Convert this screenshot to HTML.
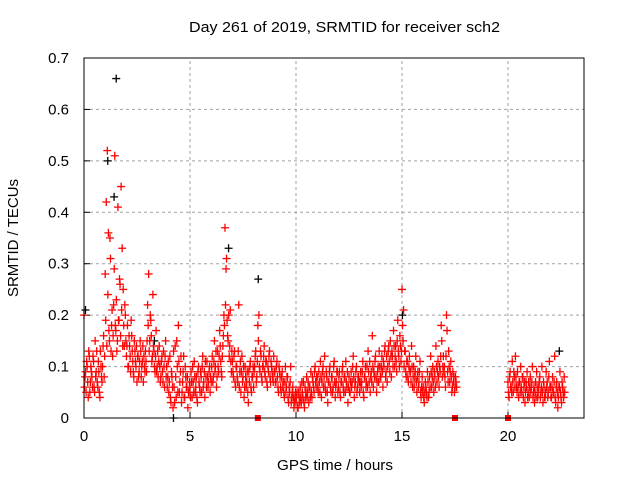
<!DOCTYPE html>
<html><head><meta charset="utf-8"><style>
body{margin:0;background:#fff}
svg{display:block;font-family:"Liberation Sans",sans-serif}
</style></head><body>
<svg id="chart" width="640" height="480">
<text x="344.5" y="32" text-anchor="middle" font-size="15" textLength="311" lengthAdjust="spacingAndGlyphs">Day 261 of 2019, SRMTID for receiver sch2</text>
<text x="335" y="470" text-anchor="middle" font-size="15" textLength="116" lengthAdjust="spacingAndGlyphs">GPS time / hours</text>
<text transform="translate(18,238) rotate(-90)" text-anchor="middle" font-size="15">SRMTID / TECUs</text>
<g id="grid"></g>
<g id="ticks"></g>
<g id="marks"></g>
<rect x="84" y="58" width="500" height="360" fill="none" stroke="#000" stroke-width="1"/>
</svg>
<script>
const xTicks=[0,5,10,15,20];
const yTicks=[0,0.1,0.2,0.3,0.4,0.5,0.6,0.7];
const yTickLabels=["0","0.1","0.2","0.3","0.4","0.5","0.6","0.7"];
const seg1Start=0, seg1Step=0.05;
const seg1Values=[
0.20,0.08,0.05,0.10,0.04,0.12,0.07,0.09,0.06,0.11,0.05,0.08,0.13,0.06,0.09,0.04,0.10,0.07,0.14,0.08,
0.28,0.42,0.52,0.36,0.15,0.31,0.18,0.12,0.22,0.51,0.17,0.13,0.41,0.19,0.26,0.45,0.33,0.25,0.14,0.20,
0.12,0.18,0.10,0.14,0.09,0.16,0.11,0.08,0.13,0.10,0.07,0.12,0.09,0.15,0.08,0.11,0.07,0.10,0.13,0.09,
0.22,0.28,0.15,0.19,0.11,0.24,0.13,0.09,0.17,0.10,0.08,0.14,0.07,0.11,0.09,0.13,0.06,0.15,0.10,0.08,
0.05,0.12,0.03,0.08,0.02,0.06,0.14,0.04,0.10,0.18,0.05,0.09,0.03,0.07,0.12,0.04,0.08,0.06,0.02,0.05,
0.06,0.09,0.04,0.07,0.11,0.05,0.08,0.03,0.10,0.06,0.09,0.05,0.12,0.07,0.04,0.08,0.11,0.06,0.09,0.05,
0.07,0.12,0.08,0.15,0.10,0.06,0.13,0.09,0.17,0.11,0.08,0.14,0.20,0.37,0.29,0.19,0.15,0.12,0.21,0.09,
0.11,0.08,0.13,0.06,0.10,0.07,0.22,0.09,0.05,0.12,0.08,0.04,0.10,0.06,0.09,0.03,0.07,0.11,0.05,0.08,
0.06,0.10,0.13,0.08,0.18,0.20,0.09,0.12,0.07,0.10,0.14,0.08,0.11,0.06,0.09,0.13,0.07,0.10,0.08,0.12,
0.09,0.07,0.11,0.06,0.10,0.08,0.05,0.09,0.07,0.04,0.10,0.06,0.08,0.03,0.05,0.10,0.04,0.06,0.02,0.04,
0.03,0.05,0.02,0.04,0.06,0.03,0.05,0.07,0.02,0.04,0.08,0.05,0.03,0.06,0.09,0.04,0.07,0.05,0.10,0.06,
0.08,0.05,0.07,0.11,0.04,0.09,0.06,0.12,0.05,0.08,0.03,0.07,0.10,0.05,0.08,0.06,0.11,0.04,0.07,0.09,
0.06,0.09,0.04,0.07,0.10,0.05,0.08,0.11,0.06,0.03,0.08,0.05,0.09,0.07,0.12,0.04,0.07,0.10,0.06,0.08,
0.05,0.09,0.07,0.11,0.04,0.08,0.06,0.10,0.13,0.07,0.05,0.09,0.16,0.06,0.08,0.12,0.05,0.09,0.07,0.10,
0.08,0.12,0.06,0.10,0.14,0.09,0.07,0.13,0.11,0.15,0.08,0.12,0.17,0.10,0.14,0.09,0.19,0.12,0.16,0.11,
0.25,0.15,0.10,0.13,0.08,0.11,0.07,0.12,0.09,0.14,0.06,0.10,0.08,0.12,0.05,0.09,0.07,0.11,0.04,0.08,
0.06,0.03,0.07,0.05,0.09,0.04,0.08,0.12,0.06,0.10,0.05,0.08,0.14,0.07,0.11,0.06,0.09,0.18,0.08,0.12,
0.10,0.06,0.20,0.09,0.13,0.07,0.11,0.05,0.09,0.08,0.06,0.07];
const seg1bStart=0.025, seg1bStep=0.05;
const seg1bValues=[
0.06,0.09,0.11,0.07,0.13,0.05,0.10,0.08,0.12,0.06,0.15,0.09,0.07,0.11,0.05,0.13,0.08,0.10,0.16,0.12,
0.19,0.14,0.24,0.17,0.35,0.13,0.21,0.16,0.29,0.18,0.23,0.15,0.19,0.27,0.16,0.21,0.14,0.18,0.22,0.15,
0.14,0.10,0.16,0.12,0.19,0.13,0.09,0.15,0.11,0.14,0.12,0.08,0.11,0.13,0.10,0.14,0.12,0.09,0.11,0.15,
0.18,0.13,0.20,0.16,0.12,0.14,0.10,0.12,0.09,0.13,0.11,0.10,0.08,0.12,0.07,0.10,0.12,0.08,0.06,0.11,
0.07,0.04,0.09,0.06,0.13,0.03,0.08,0.15,0.05,0.11,0.07,0.12,0.05,0.09,0.04,0.10,0.06,0.08,0.05,0.07,
0.04,0.07,0.10,0.05,0.08,0.06,0.04,0.09,0.07,0.05,0.08,0.10,0.06,0.09,0.11,0.06,0.08,0.07,0.10,0.08,
0.10,0.07,0.11,0.09,0.13,0.08,0.10,0.12,0.14,0.09,0.12,0.16,0.18,0.22,0.31,0.16,0.20,0.14,0.11,0.13,
0.09,0.12,0.07,0.10,0.08,0.13,0.06,0.11,0.09,0.07,0.10,0.06,0.08,0.07,0.05,0.09,0.10,0.06,0.08,0.10,
0.09,0.12,0.07,0.11,0.15,0.10,0.13,0.08,0.10,0.12,0.09,0.11,0.07,0.10,0.12,0.08,0.11,0.09,0.07,0.09,
0.07,0.10,0.08,0.05,0.09,0.06,0.08,0.06,0.05,0.07,0.05,0.08,0.04,0.06,0.07,0.03,0.05,0.04,0.03,0.05,
0.04,0.02,0.05,0.03,0.04,0.07,0.04,0.03,0.06,0.05,0.04,0.07,0.06,0.04,0.05,0.08,0.06,0.09,0.07,0.08,
0.06,0.09,0.05,0.08,0.07,0.10,0.08,0.06,0.09,0.05,0.07,0.09,0.06,0.08,0.05,0.10,0.07,0.06,0.09,0.05,
0.08,0.05,0.07,0.09,0.06,0.08,0.05,0.07,0.09,0.06,0.05,0.07,0.06,0.10,0.08,0.06,0.09,0.05,0.08,0.07,
0.07,0.06,0.09,0.05,0.08,0.10,0.07,0.06,0.09,0.11,0.08,0.07,0.10,0.09,0.11,0.08,0.07,0.10,0.13,0.08,
0.10,0.09,0.11,0.13,0.08,0.12,0.10,0.14,0.09,0.12,0.13,0.10,0.14,0.12,0.11,0.15,0.13,0.10,0.14,0.13,
0.18,0.21,0.13,0.09,0.11,0.08,0.10,0.09,0.07,0.10,0.08,0.06,0.09,0.07,0.08,0.06,0.09,0.05,0.06,0.05,
0.04,0.05,0.06,0.04,0.07,0.05,0.06,0.09,0.08,0.07,0.09,0.06,0.10,0.09,0.08,0.10,0.12,0.15,0.10,0.09,
0.08,0.12,0.17,0.07,0.10,0.09,0.08,0.06,0.07,0.05,0.08,0.06];
const seg2Start=20, seg2Step=0.05;
const seg2Values=[
0.07,0.04,0.09,0.06,0.11,0.05,0.08,0.12,0.06,0.09,0.04,0.07,0.10,0.05,0.08,0.06,0.03,0.07,0.09,0.05,
0.04,0.08,0.06,0.10,0.05,0.03,0.07,0.09,0.04,0.06,0.08,0.05,0.10,0.03,0.06,0.04,0.09,0.07,0.05,0.11,
0.06,0.04,0.08,0.05,0.12,0.03,0.07,0.02,0.06,0.09,0.04,0.07,0.05,0.08];
const seg2bStart=20.025, seg2bStep=0.05;
const seg2bValues=[
0.05,0.08,0.06,0.05,0.07,0.09,0.06,0.08,0.05,0.06,0.07,0.05,0.06,0.08,0.04,0.07,0.05,0.06,0.04,0.07,
0.06,0.05,0.07,0.04,0.06,0.05,0.04,0.06,0.05,0.07,0.04,0.06,0.05,0.07,0.04,0.05,0.06,0.04,0.08,0.06,
0.04,0.06,0.05,0.07,0.04,0.06,0.05,0.04,0.06,0.05,0.03,0.06,0.04,0.05];
const blackTimes=[0.05,1.1,1.4,1.5,3.3,4.2,6.8,8.2,15.0,22.4];
const blackValues=[0.21,0.50,0.43,0.66,0.15,0.0,0.33,0.27,0.20,0.13];
const zeroTimes=[8.2,17.5,20.0];

const NS="http://www.w3.org/2000/svg";
const X0=84,X1=584,Y0=418,Y1=58;
function xs(h){return X0+h*21.2;}
function ys(v){return Y0-v/0.7*(Y0-Y1);}
const grid=document.getElementById('grid'),ticks=document.getElementById('ticks'),marks=document.getElementById('marks');
function mk(tag,attrs,parent){const e=document.createElementNS(NS,tag);for(const k in attrs)e.setAttribute(k,attrs[k]);parent.appendChild(e);return e;}
xTicks.forEach(t=>{const x=xs(t);
 if(t>0){const g=mk('line',{x1:x,x2:x,y1:Y0,y2:Y1,stroke:'#a0a0a0','stroke-dasharray':'3,3'},grid);
 
 }
 const l=mk('line',{x1:x,x2:x,y1:Y0,y2:Y0-6,stroke:'#000'},ticks);
 
 
 const tx=mk('text',{x:x,y:Y0+23,'text-anchor':'middle','font-size':15},ticks);tx.textContent=t;
 
 
});
yTicks.forEach((t,i)=>{const y=ys(t);
 if(t>0&&t<0.7){const g=mk('line',{x1:X0,x2:X1,y1:y,y2:y,stroke:'#a0a0a0','stroke-dasharray':'3,3'},grid);
 
 }
 const l=mk('line',{x1:X0,x2:X0+6,y1:y,y2:y,stroke:'#000'},ticks);
 
 
 const tx=mk('text',{x:X0-15,y:y+5,'text-anchor':'end','font-size':15},ticks);tx.textContent=yTickLabels[i];
 
 
});
function plus(h,v,color,name){const x=xs(h),y=ys(v);
 const p=mk('path',{d:`M${x-4},${y}h8M${x},${y-4}v8`,stroke:color,'stroke-width':1.3,fill:'none'},marks);
 
 }
blackTimes.forEach((h,i)=>plus(h+0.02,blackValues[i],'#000','black-point'));
seg1Values.forEach((v,i)=>plus(seg1Start+i*seg1Step,v,'#ff0000','red-point'));
seg1bValues.forEach((v,i)=>plus(seg1bStart+i*seg1bStep,v,'#ff0000','red-point'));
seg2Values.forEach((v,i)=>plus(seg2Start+i*seg2Step,v,'#ff0000','red-point'));
seg2bValues.forEach((v,i)=>plus(seg2bStart+i*seg2bStep,v,'#ff0000','red-point'));
zeroTimes.forEach(h=>{const r=mk('rect',{x:xs(h)-3,y:Y0-3,width:6,height:6,fill:'#ff0000'},marks);
 
 });
</script>
</body></html>
